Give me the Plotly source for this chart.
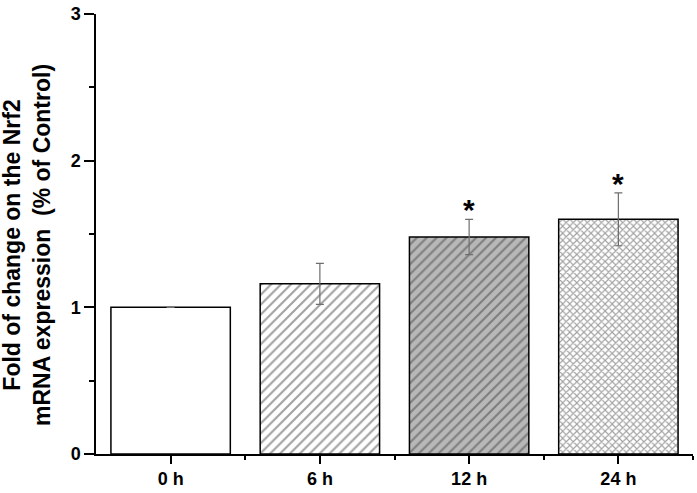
import plotly.graph_objects as go

# data
categories = ["0 h", "6 h", "12 h", "24 h"]
fold_change = [1.0, 1.16, 1.48, 1.60]
sem = [0.0, 0.14, 0.12, 0.18]
significant = [False, False, True, True]

x_pos = list(range(len(categories)))

fig = go.Figure()

fig.add_trace(go.Bar(
    x=x_pos, y=fold_change, width=0.8,
    error_y=dict(type="data", array=sem, visible=True,
                 color="#6e6e6e", thickness=1.2, width=4),
    marker=dict(
        color=["white", "white", "#b8b8b8", "white"],
        line=dict(color="black", width=1.5),
        pattern=dict(
            shape=["", "/", "/", "x"],
            fgcolor="black",
            size=[7, 7, 7, 5],
            solidity=[0.3, 0.3, 0.3, 0.4],
            fillmode="overlay",
        ),
    ),
    showlegend=False,
))

# significance stars
for xi, yi, err, sig in zip(x_pos, fold_change, sem, significant):
    if sig:
        fig.add_annotation(
            x=xi, y=yi + err, yshift=-9, text="<b>*</b>", showarrow=False,
            yanchor="bottom", font=dict(size=30, color="black"),
        )

font_family = "Liberation Sans, Arial, sans-serif"

# y title as a rotated two-line annotation
fig.add_annotation(
    xref="paper", yref="paper", x=-0.1156, y=0.475,
    xanchor="center", yanchor="middle", textangle=-90, showarrow=False,
    text="<b>Fold of change on the Nrf2<br>mRNA expression  (% of Control)</b>",
    font=dict(size=23, color="black"),
)

fig.update_layout(
    width=697, height=493,
    margin=dict(l=96, r=4, t=14, b=32),
    plot_bgcolor="white", paper_bgcolor="white",
    font=dict(family=font_family, color="black"),
)

fig.update_xaxes(
    range=[-0.5, 3.5],
    tickvals=x_pos, ticktext=[f"<b>{c}</b>" for c in categories],
    tickfont=dict(size=18),
    showline=True, linecolor="black", linewidth=1.5,
    ticks="outside", ticklen=8, tickwidth=1.5, tickcolor="black",
    minor=dict(tickvals=[0.5, 1.5, 2.5, 3.5], ticks="outside", ticklen=4,
               tickwidth=1.5, tickcolor="black"),
    showgrid=False, zeroline=False,
)

fig.update_yaxes(
    range=[0, 3],
    tickvals=[0, 1, 2, 3], ticktext=["<b>0</b>", "<b>1</b>", "<b>2</b>", "<b>3</b>"],
    tickfont=dict(size=18),
    showline=True, linecolor="black", linewidth=1.5,
    ticks="outside", ticklen=10, tickwidth=1.5, tickcolor="black",
    minor=dict(tickvals=[0.5, 1.5, 2.5], ticks="outside", ticklen=5,
               tickwidth=1.5, tickcolor="black"),
    showgrid=False, zeroline=False,
)

fig.write_html("out.html", config={"displayModeBar": False},
               post_script="document.body.style.margin='0';")
